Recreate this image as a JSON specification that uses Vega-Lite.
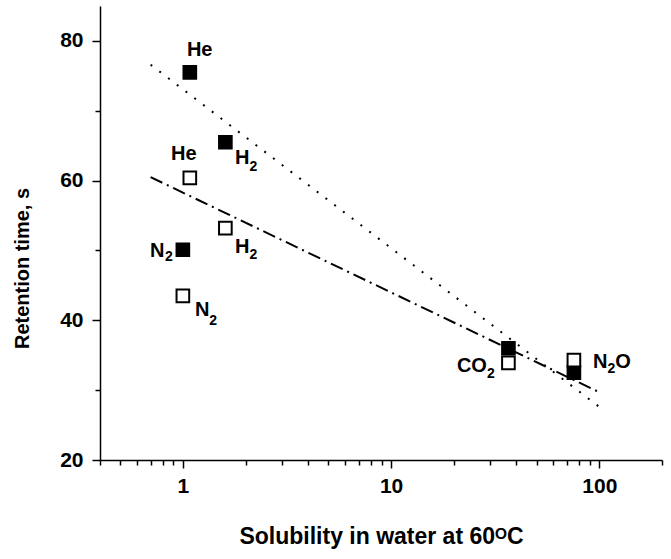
{
  "$schema": "https://vega.github.io/schema/vega-lite/v6.json",
  "width": 562,
  "height": 454,
  "autosize": "none",
  "padding": {"left": 100, "top": 6, "right": 9, "bottom": 99},
  "config": {"view": {"stroke": null}, "font": "Liberation Sans", "background": "white"},
  "datasets": {
    "points": [
      {"gas": "He", "series": "filled", "solubility": 1.08, "time": 75.5},
      {"gas": "H2", "series": "filled", "solubility": 1.6, "time": 65.5},
      {"gas": "N2", "series": "filled", "solubility": 1.0, "time": 50.1},
      {"gas": "CO2", "series": "filled", "solubility": 36.6, "time": 36.0},
      {"gas": "N2O", "series": "filled", "solubility": 75.5, "time": 32.5},
      {"gas": "He", "series": "open", "solubility": 1.08, "time": 60.4},
      {"gas": "H2", "series": "open", "solubility": 1.6, "time": 53.2},
      {"gas": "N2", "series": "open", "solubility": 1.0, "time": 43.5},
      {"gas": "CO2", "series": "open", "solubility": 36.6, "time": 33.9},
      {"gas": "N2O", "series": "open", "solubility": 75.5, "time": 34.3}
    ],
    "fits": [
      {"series": "filled", "solubility": 0.7, "time": 76.6},
      {"series": "filled", "solubility": 100, "time": 27.6},
      {"series": "open", "solubility": 0.7, "time": 60.5},
      {"series": "open", "solubility": 100, "time": 29.7}
    ],
    "labels": [
      {"label": "He", "solubility": 1.046, "time": 78.7},
      {"label": "He", "solubility": 0.877, "time": 63.8},
      {"label": "H", "solubility": 1.78, "time": 63.2},
      {"label": "H", "solubility": 1.78, "time": 50.5},
      {"label": "N", "solubility": 0.695, "time": 49.9},
      {"label": "N", "solubility": 1.143, "time": 41.5},
      {"label": "CO", "solubility": 20.7, "time": 33.5},
      {"label": "N", "solubility": 93.3, "time": 34.0},
      {"label": "O", "solubility": 119.4, "time": 34.0}
    ],
    "subscripts": [
      {"label": "2", "solubility": 2.09, "time": 61.9},
      {"label": "2", "solubility": 2.09, "time": 49.3},
      {"label": "2", "solubility": 0.82, "time": 49.0},
      {"label": "2", "solubility": 1.34, "time": 39.9},
      {"label": "2", "solubility": 28.9, "time": 32.3},
      {"label": "2", "solubility": 109.4, "time": 33.0}
    ]
  },
  "encoding": {
    "x": {
      "field": "solubility",
      "type": "quantitative",
      "scale": {"type": "log", "domain": [0.4, 200], "nice": false},
      "axis": {
        "title": "Solubility in water at 60ᴼC",
        "values": [0.4, 0.5, 0.6, 0.7, 0.8, 0.9, 1, 2, 3, 4, 5, 6, 7, 8, 9, 10, 20, 30, 40, 50, 60, 70, 80, 90, 100, 200],
        "format": "~g",
        "labelExpr": "datum.value == 1 || datum.value == 10 || datum.value == 100 ? datum.label : ''",
        "tickSize": {"condition": {"test": "datum.value == 1 || datum.value == 10 || datum.value == 100", "value": 8}, "value": 5},
        "grid": false,
        "domainColor": "black",
        "domainWidth": 1.5,
        "tickColor": "black",
        "tickWidth": 1.5,
        "labelFont": "Liberation Sans",
        "labelFontWeight": "bold",
        "labelFontSize": 21,
        "labelColor": "black",
        "labelPadding": 7,
        "labelFlush": false,
        "titleFont": "Liberation Sans",
        "titleFontWeight": "bold",
        "titleFontSize": 23,
        "titleColor": "black",
        "titlePadding": 29
      }
    },
    "y": {
      "field": "time",
      "type": "quantitative",
      "scale": {"domain": [20, 85], "nice": false, "zero": false},
      "axis": {
        "title": "Retention time, s",
        "values": [20, 30, 40, 50, 60, 70, 80],
        "labelExpr": "datum.value % 20 == 0 ? datum.label : ''",
        "tickSize": {"condition": {"test": "datum.value % 20 == 0", "value": 8}, "value": 5},
        "grid": false,
        "domainColor": "black",
        "domainWidth": 1.5,
        "tickColor": "black",
        "tickWidth": 1.5,
        "labelFont": "Liberation Sans",
        "labelFontWeight": "bold",
        "labelFontSize": 21,
        "labelColor": "black",
        "labelPadding": 9,
        "labelFlush": false,
        "titleFont": "Liberation Sans",
        "titleFontWeight": "bold",
        "titleFontSize": 20,
        "titleColor": "black",
        "titlePadding": 27,
        "titleY": 262
      }
    }
  },
  "layer": [
    {
      "data": {"name": "fits"},
      "mark": {"type": "line", "color": "black", "strokeWidth": 2},
      "encoding": {
        "detail": {"field": "series"},
        "strokeDash": {
          "field": "series",
          "type": "nominal",
          "scale": {"domain": ["filled", "open"], "range": [[2, 9], [13, 5, 2, 5]]},
          "legend": null
        }
      }
    },
    {
      "data": {"name": "points"},
      "mark": {"type": "square", "size": 160, "stroke": "black", "strokeWidth": 2, "opacity": 1},
      "encoding": {
        "fill": {
          "field": "series",
          "type": "nominal",
          "scale": {"domain": ["filled", "open"], "range": ["black", "white"]},
          "legend": null
        }
      }
    },
    {
      "data": {"name": "labels"},
      "mark": {"type": "text", "align": "left", "baseline": "middle", "font": "Liberation Sans", "fontWeight": "bold", "fontSize": 20, "color": "black"},
      "encoding": {"text": {"field": "label"}}
    },
    {
      "data": {"name": "subscripts"},
      "mark": {"type": "text", "align": "left", "baseline": "middle", "font": "Liberation Sans", "fontWeight": "bold", "fontSize": 14, "color": "black"},
      "encoding": {"text": {"field": "label"}}
    }
  ]
}
